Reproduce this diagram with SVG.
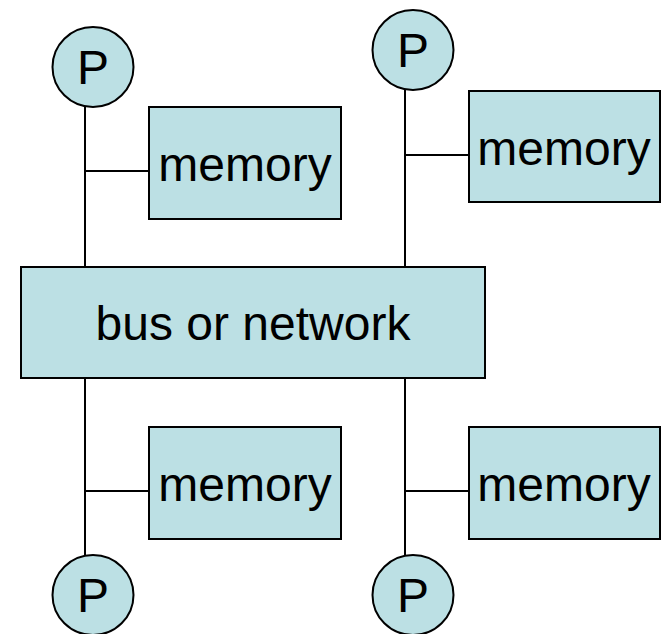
<svg xmlns="http://www.w3.org/2000/svg" width="661" height="634" viewBox="0 0 661 634">
  <style>
    .box { fill: #BCE0E4; stroke: #000; stroke-width: 2; }
    .wire { stroke: #000; stroke-width: 2; fill: none; }
    .lbl { font-family: "Liberation Sans", Arial, sans-serif; font-size: 48px; fill: #000; text-anchor: middle; }
  </style>
  <rect width="661" height="634" fill="#fff"/>

  <!-- connectors -->
  <g id="connectors" class="wire">
    <line x1="85" y1="106" x2="85" y2="267"/>
    <line x1="85" y1="171" x2="149" y2="171"/>
    <line x1="405" y1="89" x2="405" y2="267"/>
    <line x1="405" y1="155" x2="469" y2="155"/>
    <line x1="85" y1="378" x2="85" y2="556"/>
    <line x1="85" y1="491" x2="149" y2="491"/>
    <line x1="405" y1="378" x2="405" y2="556"/>
    <line x1="405" y1="491" x2="469" y2="491"/>
  </g>

  <!-- processors -->
  <g id="p-top-left">
    <ellipse class="box" cx="93" cy="67" rx="40.5" ry="40"/>
    <text class="lbl" x="93" y="84">P</text>
  </g>
  <g id="p-top-right">
    <ellipse class="box" cx="413" cy="50" rx="40.5" ry="40"/>
    <text class="lbl" x="413" y="67">P</text>
  </g>
  <g id="p-bottom-left">
    <ellipse class="box" cx="93" cy="595" rx="40.5" ry="40"/>
    <text class="lbl" x="93" y="612">P</text>
  </g>
  <g id="p-bottom-right">
    <ellipse class="box" cx="413" cy="595" rx="40.5" ry="40"/>
    <text class="lbl" x="413" y="612">P</text>
  </g>

  <!-- memories -->
  <g id="mem-top-left">
    <rect class="box" x="149" y="107" width="192" height="112"/>
    <text class="lbl" x="245" y="181">memory</text>
  </g>
  <g id="mem-top-right">
    <rect class="box" x="469" y="91" width="191" height="111"/>
    <text class="lbl" x="564" y="165">memory</text>
  </g>
  <g id="mem-bottom-left">
    <rect class="box" x="149" y="427" width="192" height="112"/>
    <text class="lbl" x="245" y="501">memory</text>
  </g>
  <g id="mem-bottom-right">
    <rect class="box" x="469" y="427" width="191" height="112"/>
    <text class="lbl" x="564" y="501">memory</text>
  </g>

  <!-- interconnect -->
  <g id="bus">
    <rect class="box" x="21" y="267" width="464" height="111"/>
    <text class="lbl" x="253" y="340">bus or network</text>
  </g>
</svg>
